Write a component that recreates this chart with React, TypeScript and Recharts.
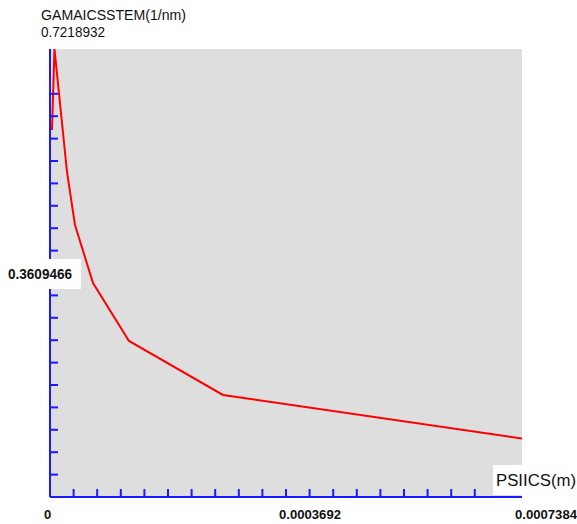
import React from 'react';
import { LineChart, Line, XAxis, YAxis, CartesianGrid } from 'recharts';

// ---- data ----
const psiIcs = [0.0000031, 0.0000070, 0.0000266, 0.0000391, 0.0000673, 0.0001236, 0.0002706, 0.0007384];
const gamaIcsStem = [0.5914, 0.7218932, 0.5237, 0.4383, 0.3448, 0.2514, 0.1644, 0.0943];

const X_MAX = 0.0007384;
const Y_MAX = 0.7218932;
const DIVISIONS = 20;
const xTickLabels = ['0', '0.0003692', '0.0007384'];
const yTickLabels = ['0.3609466', '0.7218932'];
const xTitle = 'PSIICS(m)';
const yTitle = 'GAMAICSSTEM(1/nm)';

const data = psiIcs.map((x, i) => ({ x, y: gamaIcsStem[i] }));
const xTicks = Array.from({ length: DIVISIONS + 1 }, (_, k) => (k * X_MAX) / DIVISIONS);
const yTicks = Array.from({ length: DIVISIONS + 1 }, (_, k) => (k * Y_MAX) / DIVISIONS);

const BLUE = '#1a1aff';
const FONT = '"Liberation Sans", Arial, sans-serif';

const XTick = (props: any) => {
  const { x, y, payload } = props;
  const k = Math.round((payload.value / X_MAX) * DIVISIONS);
  const labelIdx = k === 0 ? 0 : k === 10 ? 1 : k === 20 ? 2 : -1;
  return (
    <g>
      {k >= 1 && k <= 18 && (
        <line x1={x} x2={x} y1={y} y2={y - 8} stroke={BLUE} strokeWidth={2} />
      )}
      {labelIdx >= 0 && (
        <text
          x={x - (labelIdx === 0 ? 6 : 7)}
          y={y + 22}
          fontFamily={FONT}
          fontSize={13}
          fontWeight="bold"
          fill="#111"
          textAnchor="start"
          {...(labelIdx > 0 ? { textLength: 62, lengthAdjust: 'spacingAndGlyphs' } : {})}
        >
          {xTickLabels[labelIdx]}
        </text>
      )}
    </g>
  );
};

const YTick = (props: any) => {
  const { x, y, payload } = props;
  const k = Math.round((payload.value / Y_MAX) * DIVISIONS);
  return (
    <g>
      {k >= 1 && k <= 18 && k !== 10 && (
        <line x1={x} x2={x + 8} y1={y} y2={y} stroke={BLUE} strokeWidth={2} />
      )}
      {k === 10 && (
        <g>
          <rect x={x - 50} y={y - 14} width={81} height={30} fill="#ffffff" />
          <text
            x={x - 42}
            y={y + 6}
            fontFamily={FONT}
            fontSize={14}
            fontWeight="bold"
            fill="#111"
            textLength={64}
            lengthAdjust="spacingAndGlyphs"
          >
            {yTickLabels[0]}
          </text>
        </g>
      )}
      {k === 20 && (
        <text
          x={x - 9}
          y={y - 12}
          fontFamily={FONT}
          fontSize={14}
          fill="#111"
          textLength={64}
          lengthAdjust="spacingAndGlyphs"
        >
          {yTickLabels[1]}
        </text>
      )}
    </g>
  );
};

const XLabel = (props: any) => {
  const vb = props.viewBox || {};
  const right = vb.x + vb.width;
  return (
    <g>
      <rect x={right - 29} y={vb.y - 32} width={84} height={30} fill="#ffffff" />
      <text
        x={right - 26}
        y={vb.y - 11}
        fontFamily={FONT}
        fontSize={16}
        fill="#111"
        textLength={80}
        lengthAdjust="spacingAndGlyphs"
      >
        {xTitle}
      </text>
    </g>
  );
};

const YLabel = (props: any) => {
  const vb = props.viewBox || {};
  return (
    <text
      x={vb.x + vb.width - 9}
      y={vb.y - 29}
      fontFamily={FONT}
      fontSize={14}
      fill="#111"
      textLength={145}
      lengthAdjust="spacingAndGlyphs"
    >
      {yTitle}
    </text>
  );
};

export default function App() {
  return (
    <div style={{ position: 'absolute', left: 0, top: 0, width: 577, height: 524, background: '#fff' }}>
      <LineChart
        width={577}
        height={524}
        data={data}
        margin={{ top: 49, right: 55, bottom: 0, left: 0 }}
      >
        <CartesianGrid fill="#dedede" horizontal={false} vertical={false} stroke="none" />
        <XAxis
          dataKey="x"
          type="number"
          domain={[0, X_MAX]}
          ticks={xTicks}
          interval={0}
          height={27}
          tickSize={0}
          tickMargin={0}
          tickLine={false}
          axisLine={{ stroke: BLUE, strokeWidth: 2 }}
          tick={<XTick />}
          label={{ content: <XLabel /> } as any}
          allowDataOverflow
        />
        <YAxis
          dataKey="y"
          type="number"
          domain={[0, Y_MAX]}
          ticks={yTicks}
          interval={0}
          width={50}
          tickSize={0}
          tickMargin={0}
          tickLine={false}
          axisLine={{ stroke: BLUE, strokeWidth: 2 }}
          tick={<YTick />}
          label={{ content: <YLabel /> } as any}
          allowDataOverflow
        />
        <Line
          type="linear"
          dataKey="y"
          stroke="#ff0000"
          strokeWidth={2}
          dot={false}
          activeDot={false}
          isAnimationActive={false}
        />
      </LineChart>
    </div>
  );
}
